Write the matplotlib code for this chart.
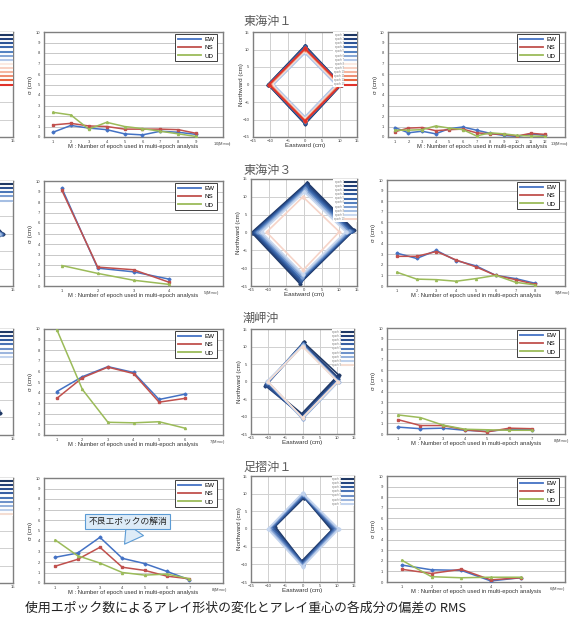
import matplotlib
matplotlib.use('Agg')
import matplotlib.pyplot as plt
from matplotlib.lines import Line2D
import numpy as np

plt.rcParams['font.family'] = ['Liberation Sans', 'DejaVu Sans']
JP = ['Noto Sans CJK JP', 'DejaVu Sans']

# ---- sigma (RMS) data, middle column ----
tokai1_ew = [0.45, 1.1, 0.85, 0.7, 0.3, 0.2, 0.55, 0.45, 0.25]
tokai1_ns = [1.15, 1.3, 1.05, 1.0, 0.75, 0.75, 0.75, 0.7, 0.35]
tokai1_ud = [2.35, 2.1, 0.75, 1.4, 1.0, 0.8, 0.55, 0.3, 0.05]

tokai3_ew = [9.3, 1.7, 1.35, 0.65]
tokai3_ns = [9.1, 1.8, 1.55, 0.35]
tokai3_ud = [1.95, 1.2, 0.55, 0.15]

shiono_ew = [4.1, 5.5, 6.45, 5.9, 3.35, 3.85]
shiono_ns = [3.45, 5.4, 6.4, 5.8, 3.1, 3.45]
shiono_ud = [9.95, 4.3, 1.2, 1.15, 1.25, 0.65]

ashizuri1_ew = [2.45, 2.85, 4.35, 2.35, 1.85, 1.1, 0.3]
ashizuri1_ns = [1.6, 2.25, 3.4, 1.5, 1.2, 0.65, 0.4]
ashizuri1_ud = [4.1, 2.6, 1.9, 1.0, 0.75, 0.85, 0.4]

# ---- sigma data, right column ----
right1_ew = [0.9, 0.4, 0.55, 0.3, 0.8, 0.95, 0.65, 0.35, 0.15, 0.05, 0.3, 0.15]
right1_ns = [0.5, 0.85, 0.9, 0.6, 0.7, 0.75, 0.4, 0.3, 0.25, 0.1, 0.35, 0.25]
right1_ud = [0.65, 0.65, 0.7, 1.05, 0.85, 0.7, 0.1, 0.4, 0.3, 0.15, 0.1, 0.05]

right2_ew = [3.1, 2.6, 3.35, 2.4, 1.9, 1.0, 0.7, 0.25]
right2_ns = [2.8, 2.8, 3.25, 2.45, 1.8, 1.0, 0.6, 0.15]
right2_ud = [1.3, 0.65, 0.6, 0.45, 0.7, 1.0, 0.35, 0.1]

right3_ew = [0.65, 0.5, 0.55, 0.35, 0.25, 0.45, 0.4]
right3_ns = [1.35, 0.8, 0.8, 0.4, 0.2, 0.55, 0.5]
right3_ud = [1.8, 1.55, 0.85, 0.45, 0.4, 0.35, 0.35]

right4_ew = [1.6, 1.15, 1.1, 0.1, 0.4]
right4_ns = [1.2, 0.8, 1.2, 0.2, 0.4]
right4_ud = [2.05, 0.5, 0.4, 0.45, 0.45]

# ---- array shapes (N, E, S, W transponders) for each epoch ----
tokai1_shapes = [
    [(0.0, 11.1), (10.6, 0.0), (0.0, -11.3), (-10.7, 0.0)],
    [(0.0, 10.9), (10.5, 0.0), (0.0, -11.1), (-10.6, 0.0)],
    [(0.0, 10.8), (10.4, 0.0), (0.0, -11.0), (-10.5, 0.0)],
    [(0.0, 10.6), (10.3, 0.0), (0.0, -10.8), (-10.4, 0.0)],
    [(0.0, 9.4), (9.2, 0.0), (0.0, -9.6), (-9.4, 0.0)],
    [(0.0, 9.2), (9.0, 0.0), (0.0, -9.4), (-9.2, 0.0)],
    [(0.0, 9.0), (8.9, 0.0), (0.0, -9.2), (-9.1, 0.0)],
    [(0.0, 9.6), (9.5, 0.0), (0.0, -9.8), (-9.6, 0.0)],
    [(0.0, 9.8), (9.7, 0.0), (0.0, -10.0), (-9.8, 0.0)],
    [(0.0, 10.0), (9.9, 0.0), (0.0, -10.2), (-10.0, 0.0)],
    [(0.0, 10.1), (10.1, 0.0), (0.0, -10.3), (-10.1, 0.0)],
    [(0.0, 10.2), (10.3, 0.0), (0.0, -10.4), (-10.3, 0.0)],
    [(0.0, 10.3), (10.4, 0.0), (0.0, -10.5), (-10.4, 0.0)],
]
tokai3_shapes = [
    [(0.9, 14.0), (14.2, 0.7), (-1.2, -14.3), (-14.8, 0.0)],
    [(0.8, 13.7), (13.9, 0.6), (-1.1, -14.0), (-14.5, 0.0)],
    [(0.7, 13.4), (13.7, 0.5), (-1.0, -13.7), (-14.2, 0.0)],
    [(0.6, 13.1), (13.5, 0.4), (-0.9, -13.4), (-13.9, 0.1)],
    [(0.5, 12.8), (13.2, 0.4), (-0.8, -13.1), (-13.6, 0.1)],
    [(0.4, 12.5), (12.9, 0.3), (-0.6, -12.8), (-13.3, 0.1)],
    [(0.3, 12.1), (12.6, 0.3), (-0.5, -12.4), (-12.9, 0.1)],
    [(0.2, 11.7), (12.2, 0.2), (-0.4, -12.0), (-12.5, 0.1)],
    [(0.1, 11.3), (11.8, 0.2), (-0.3, -11.6), (-12.0, 0.1)],
    [(-0.3, 10.0), (10.0, 0.2), (-0.2, -10.5), (-10.6, 0.1)],
]
shiono_shapes = [
    [(0.3, 11.2), (10.5, 1.9), (-0.2, -9.2), (-10.6, -0.8)],
    [(0.2, 10.9), (10.3, 1.2), (-0.3, -9.6), (-10.8, -1.2)],
    [(0.1, 10.6), (10.2, 0.6), (-0.1, -10.0), (-10.6, -1.0)],
    [(0.2, 10.8), (10.0, 0.3), (0.0, -10.2), (-10.4, -0.5)],
    [(0.0, 10.6), (10.2, 0.1), (0.0, -10.4), (-10.2, -0.3)],
    [(0.1, 10.4), (10.4, 0.0), (0.1, -10.6), (-10.0, -0.2)],
    [(0.0, 10.3), (10.5, 0.0), (0.0, -10.7), (-10.2, 0.0)],
    [(0.0, 10.2), (10.4, -0.1), (0.0, -10.5), (-10.3, 0.1)],
    [(0.0, 10.0), (10.2, 0.0), (0.0, -10.3), (-10.1, 0.0)],
]
ashizuri1_shapes = [
    [(0.5, 8.9), (8.5, -0.3), (-0.2, -9.1), (-8.0, 0.7)],
    [(0.4, 9.1), (8.8, -0.2), (-0.1, -9.3), (-8.3, 0.5)],
    [(0.3, 9.3), (9.1, -0.1), (0.0, -9.6), (-8.7, 0.4)],
    [(0.2, 9.6), (9.5, 0.0), (0.0, -9.9), (-9.1, 0.3)],
    [(0.1, 9.8), (9.9, 0.0), (0.0, -10.2), (-9.5, 0.2)],
    [(0.0, 10.0), (10.3, 0.0), (0.0, -10.5), (-9.8, 0.1)],
    [(0.0, 10.2), (10.6, 0.0), (0.0, -10.7), (-10.1, 0.0)],
]
# left column (cut off in the picture)
left1_shapes = [
    [(0.0, 10.6), (10.4, 0.0), (0.0, -10.6), (-10.4, 0.0)],
    [(0.0, 10.5), (10.3, 0.0), (0.0, -10.5), (-10.3, 0.0)],
    [(0.0, 10.4), (10.2, 0.0), (0.0, -10.4), (-10.2, 0.0)],
    [(0.0, 10.3), (10.1, 0.0), (0.0, -10.3), (-10.1, 0.0)],
    [(0.0, 10.2), (10.0, 0.0), (0.0, -10.2), (-10.0, 0.0)],
    [(0.0, 10.1), (9.9, 0.0), (0.0, -10.1), (-9.9, 0.0)],
    [(0.0, 10.0), (9.8, 0.0), (0.0, -10.0), (-9.8, 0.0)],
    [(0.0, 9.9), (9.7, 0.0), (0.0, -9.9), (-9.7, 0.0)],
    [(0.0, 9.8), (9.6, 0.0), (0.0, -9.8), (-9.6, 0.0)],
    [(0.0, 9.7), (9.5, 0.0), (0.0, -9.7), (-9.5, 0.0)],
    [(0.0, 9.6), (9.4, 0.0), (0.0, -9.6), (-9.4, 0.0)],
    [(0.0, 9.5), (9.3, 0.0), (0.0, -9.5), (-9.3, 0.0)],
    [(0.0, 9.4), (9.2, 0.0), (0.0, -9.4), (-9.2, 0.0)],
]
left2_shapes = [
    [(0.5, 12.5), (12.1, 0.0), (-0.5, -12.5), (-12.3, 0.0)],
    [(0.4, 12.2), (11.8, 0.0), (-0.4, -12.2), (-12.0, 0.0)],
    [(0.3, 11.9), (11.5, 0.0), (-0.3, -11.9), (-11.7, 0.0)],
    [(0.2, 11.6), (11.2, 0.0), (-0.2, -11.6), (-11.4, 0.0)],
    [(0.1, 11.3), (10.9, 0.0), (-0.1, -11.3), (-11.1, 0.0)],
]
left3_shapes = [
    [(-1.0, 10.5), (11.4, -8.9), (-1.0, -11.0), (-12.0, 0.0)],
    [(-0.8, 10.3), (10.8, -8.0), (-0.8, -10.8), (-11.8, 0.0)],
    [(-0.6, 10.1), (10.4, -7.5), (-0.6, -10.6), (-11.6, 0.0)],
    [(-0.4, 9.9), (10.0, -7.0), (-0.4, -10.4), (-11.4, 0.0)],
    [(-0.2, 9.7), (9.6, -6.5), (-0.2, -10.2), (-11.2, 0.0)],
    [(0.0, 9.5), (9.2, -6.0), (0.0, -10.0), (-11.0, 0.0)],
    [(0.2, 9.3), (8.8, -5.5), (0.2, -9.8), (-10.8, 0.0)],
]
left4_shapes = [
    [(0.0, 9.0), (9.0, 0.0), (0.0, -9.0), (-9.0, 0.0)],
    [(0.0, 9.1), (9.1, 0.0), (0.0, -9.1), (-9.1, 0.0)],
    [(0.0, 9.2), (9.2, 0.0), (0.0, -9.2), (-9.2, 0.0)],
    [(0.0, 9.3), (9.3, 0.0), (0.0, -9.3), (-9.3, 0.0)],
    [(0.0, 9.4), (9.4, 0.0), (0.0, -9.4), (-9.4, 0.0)],
    [(0.0, 9.5), (9.5, 0.0), (0.0, -9.5), (-9.5, 0.0)],
    [(0.0, 9.6), (9.6, 0.0), (0.0, -9.6), (-9.6, 0.0)],
    [(0.0, 9.7), (9.7, 0.0), (0.0, -9.7), (-9.7, 0.0)],
    [(0.0, 9.8), (9.8, 0.0), (0.0, -9.8), (-9.8, 0.0)],
]

# ---- colours ----
C_EW, C_NS, C_UD = '#4472C4', '#C0504D', '#9BBB59'
cols13 = ['#1F3864', '#22407A', '#2E5597', '#3C68AE', '#5583C2', '#86A7D6', '#B5C9E9',
          '#FBEAE2', '#F8D2C4', '#F4B6A0', '#EE8E72', '#E8663F', '#E0322B']
cols10 = ['#1F3864', '#213F78', '#284B88', '#2F5899', '#3B67AC', '#5580BE', '#7C9ED1',
          '#A6BFE3', '#C9D8EF', '#F6D4C8']
cols9 = ['#1F3864', '#223F77', '#2C4F8E', '#3860A4', '#4C77B8', '#6E92CA', '#96B2DC',
         '#BDD0EB', '#F4DDD2']
cols7 = ['#1F3864', '#264680', '#325A9C', '#4A73B5', '#6F91C9', '#9DB6DE', '#C3D4EE']
cols5 = ['#1F3864', '#2C4F8E', '#4C77B8', '#7C9ED1', '#A6BFE3']

W, H = 571, 623
fig = plt.figure(figsize=(W / 100, H / 100), dpi=100)


def add_ax(left, top, right, bottom):
    return fig.add_axes([left / W, 1 - bottom / H, (right - left) / W, (bottom - top) / H])


def sigma_chart(ax, ew, ns, ud, xlab_x=0.5, mmax_shift=0.05):
    m = np.arange(1, len(ew) + 1)
    mmax = len(ew) + 1
    ax.plot(m, ew, color=C_EW, lw=1.1, marker='D', ms=1.5, zorder=3)
    ax.plot(m, ns, color=C_NS, lw=1.1, marker='s', ms=1.5, zorder=3)
    ax.plot(m, ud, color=C_UD, lw=1.1, marker='^', ms=1.5, zorder=3)
    ax.set_xlim(0.5, mmax + 0.5)
    ax.set_ylim(0, 10)
    ax.set_yticks(range(11))
    ax.set_xticks(m)
    ax.tick_params(length=0, labelsize=3, labelcolor='#404040')
    ax.tick_params(axis='x', pad=2.0)
    ax.tick_params(axis='y', pad=3.0)
    ax.text(mmax - mmax_shift, -0.025, f'{mmax}(M$_{{max}}$)', transform=ax.get_xaxis_transform(),
            ha='left', va='top', fontsize=3, color='#404040')
    ax.grid(axis='y', color='#C8C8C8', lw=0.7)
    ax.set_axisbelow(True)
    for s in ax.spines.values():
        s.set_color('#7F7F7F')
        s.set_linewidth(1.0)
    ax.set_ylabel('σ (cm)', fontsize=4.5, color='#333333')
    ax.yaxis.set_label_coords(-0.059, 0.5)
    ax.set_xlabel('M : Number of epoch used in multi-epoch analysis', fontsize=4.2, color='#333333')
    ax.xaxis.set_label_coords(xlab_x, -0.068)
    handles = [Line2D([], [], color=c, lw=1.3) for c in (C_EW, C_NS, C_UD)]
    ax.legend(handles, ['EW', 'NS', 'UD'], loc='upper right', bbox_to_anchor=(0.968, 0.98),
              fontsize=4.5, handlelength=3.6, labelspacing=0.45, borderpad=0.45,
              handletextpad=0.6, fancybox=False, edgecolor='#404040', framealpha=1,
              borderaxespad=0).get_frame().set_linewidth(0.7)


def array_chart(ax, shapes, colors, partial=False):
    for pts, c in zip(shapes, colors):
        xs = [p[0] for p in pts] + [pts[0][0]]
        ys = [p[1] for p in pts] + [pts[0][1]]
        ax.plot(xs, ys, color=c, lw=1.2, marker='D', ms=1.6)
    ax.set_xlim(-15, 15)
    ax.set_ylim(-15, 15)
    ticks = list(range(-15, 16, 5))
    ax.set_xticks(ticks)
    ax.set_yticks(ticks)
    ax.tick_params(length=0, labelsize=3, labelcolor='#404040')
    ax.tick_params(axis='x', pad=1.5)
    ax.tick_params(axis='y', pad=2.5)
    ax.grid(color='#D0D0D0', lw=0.7)
    ax.set_axisbelow(True)
    for s in ax.spines.values():
        s.set_color('#7F7F7F')
        s.set_linewidth(1.0)
    handles = [Line2D([], [], color=c, lw=1.5) for c in colors]
    if partial:
        # only the right edge of this panel is inside the picture
        ax.set_xticklabels([''] * 6 + ['15'])
        ax.set_yticklabels([''] * 7)
        labels = [''] * len(colors)
    else:
        ax.set_xlabel('Eastward (cm)', fontsize=4.5, color='#333333')
        ax.xaxis.set_label_coords(0.5, -0.057)
        ax.set_ylabel('Northward (cm)', fontsize=4.5, color='#333333')
        ax.yaxis.set_label_coords(-0.09, 0.5)
        labels = ['epoch %d' % (i + 1) for i in range(len(colors))]
    leg = ax.legend(handles, labels, loc='upper right', fontsize=1.8, labelspacing=0.05,
                    handlelength=4.5, handleheight=0.5, handletextpad=0.3, borderpad=0.2,
                    borderaxespad=0.15, markerfirst=False, fancybox=False,
                    edgecolor='none', framealpha=1)
    for t in leg.get_texts():
        t.set_color('#777777')


# partial left column
for shapes, cols, (t, b) in [(left1_shapes, cols13, (32, 137)), (left2_shapes, cols5, (181, 286)),
                             (left3_shapes, cols7, (329, 435)), (left4_shapes, cols9, (478, 583))]:
    array_chart(add_ax(-92, t, 13, b), shapes, cols, partial=True)

# middle column sigma charts
sigma_chart(add_ax(44, 32, 223, 137), tokai1_ew, tokai1_ns, tokai1_ud)
sigma_chart(add_ax(44, 181, 223, 286), tokai3_ew, tokai3_ns, tokai3_ud)
sigma_chart(add_ax(44, 329, 223, 435), shiono_ew, shiono_ns, shiono_ud)
ax_a = add_ax(44, 478, 223, 583)
sigma_chart(ax_a, ashizuri1_ew, ashizuri1_ns, ashizuri1_ud)
ax_a.annotate('不良エポックの解消', xy=(4.1, 3.7), xytext=(4.25, 5.85), fontsize=6.3, family=JP,
              ha='center', va='center', color='#222222',
              bbox=dict(boxstyle='square,pad=0.35', fc='#DDEBF7', ec='#5B9BD5', lw=0.8),
              arrowprops=dict(arrowstyle='wedge,tail_width=2.4,shrink_factor=0.5',
                              relpos=(0.66, 0.5), shrinkA=0, shrinkB=0,
                              fc='#DDEBF7', ec='#5B9BD5', lw=0.8))

# array shape charts
array_chart(add_ax(253, 32, 357, 137), tokai1_shapes, cols13)
array_chart(add_ax(251, 179, 357, 286), tokai3_shapes, cols10)
array_chart(add_ax(251, 329, 354, 434), shiono_shapes, cols9)
array_chart(add_ax(251, 476, 354, 582), ashizuri1_shapes, cols7)

# right column sigma charts
sigma_chart(add_ax(388, 32, 565, 137), right1_ew, right1_ns, right1_ud, xlab_x=0.53, mmax_shift=0.6)
sigma_chart(add_ax(387, 180, 565, 286), right2_ew, right2_ns, right2_ud)
sigma_chart(add_ax(387, 328, 565, 434), right3_ew, right3_ns, right3_ud)
sigma_chart(add_ax(387, 476, 565, 582), right4_ew, right4_ns, right4_ud)

# station titles
for name, yc in [('東海沖１', 21), ('東海沖３', 170), ('潮岬沖', 318), ('足摺沖１', 467)]:
    fig.text(243 / W, 1 - yc / H, name, fontsize=8.7, family=JP, va='center', ha='left', color='#595959')

fig.text(25 / W, 1 - 608 / H, '使用エポック数によるアレイ形状の変化とアレイ重心の各成分の偏差の RMS',
         fontsize=9.3, family=JP, va='center', ha='left', color='#222222')

fig.savefig('out.png', dpi=100)
